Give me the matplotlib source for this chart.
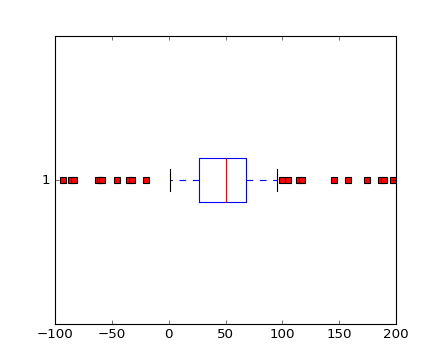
import matplotlib
matplotlib.use("Agg")
import matplotlib.pyplot as plt

plt.style.use('classic')

# Box statistics
whisker_low = 1.0
q1 = 27.1
median = 50.3
q3 = 67.9
whisker_high = 95.5
fliers_low = [-93.1, -86.0, -83.7, -62.3, -60.0, -58.5, -45.4, -34.5, -32.3, -20.1]
fliers_high = [99.3, 105.2, 114.6, 117.2, 145.6, 158.2, 174.7, 187.0, 189.4, 197.2]
labels = ['1']

stats = [dict(med=median, q1=q1, q3=q3, whislo=whisker_low, whishi=whisker_high,
              fliers=fliers_low + fliers_high, label=labels[0])]

fig = plt.figure(figsize=(5.5, 4.5), dpi=80)
ax = fig.add_subplot(111)
ax.bxp(stats, vert=False, widths=0.15,
       boxprops=dict(color='b'),
       medianprops=dict(color='r'),
       whiskerprops=dict(color='b', linestyle='--'),
       capprops=dict(color='k'),
       flierprops=dict(marker='s', markerfacecolor='r', markeredgecolor='k',
                       markersize=6, linestyle='none'))
ax.set_xlim(-100, 200)
ax.set_ylim(0.5, 1.5)
fig.savefig('out.png', dpi=80)
